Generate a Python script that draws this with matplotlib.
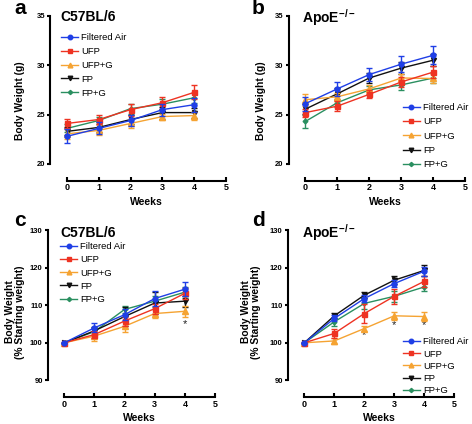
import matplotlib
matplotlib.use("Agg")
import matplotlib.pyplot as plt
from matplotlib.lines import Line2D

plt.rcParams['font.family'] = ['Liberation Sans', 'DejaVu Sans']
plt.rcParams['mathtext.fontset'] = 'custom'
plt.rcParams['mathtext.rm'] = 'Liberation Sans'
plt.rcParams['mathtext.bf'] = 'Liberation Sans:bold'

# data
weeks = [0, 1, 2, 3, 4]
groups = ["Filtered Air", "UFP", "UFP+G", "FP", "FP+G"]

# a: C57BL/6 body weight (g)
fa_a = [22.8, 23.6, 24.4, 25.5, 26.0]
ufp_a = [24.1, 24.5, 25.5, 26.2, 27.25]
ufpg_a = [23.05, 23.4, 24.1, 24.8, 24.9]
fp_a = [23.3, 23.7, 24.5, 25.2, 25.2]
fpg_a = [23.6, 24.4, 25.6, 26.05, 26.7]
fa_a_err = [0.7, 0.6, 0.6, 0.6, 0.7]
ufp_a_err = [0.5, 0.5, 0.6, 0.6, 0.7]
ufpg_a_err = [0.5, 0.5, 0.5, 0.3, 0.4]
fp_a_err = [0.4, 0.5, 0.5, 0.6, 0.5]
fpg_a_err = [0.4, 0.4, 0.5, 0.5, 0.5]

# b: ApoE-/- body weight (g)
fa_b = [26.1, 27.6, 29.05, 30.1, 31.0]
ufp_b = [25.2, 25.85, 27.05, 28.3, 29.3]
ufpg_b = [26.5, 26.8, 27.6, 28.7, 28.65]
fp_b = [25.55, 27.1, 28.7, 29.7, 30.5]
fpg_b = [24.3, 26.2, 27.5, 28.0, 28.7]
fa_b_err = [0.7, 0.7, 0.7, 0.8, 0.9]
ufp_b_err = [0.4, 0.5, 0.4, 0.5, 0.6]
ufpg_b_err = [0.6, 0.4, 0.4, 0.4, 0.5]
fp_b_err = [0.5, 0.6, 0.5, 0.6, 0.6]
fpg_b_err = [0.7, 0.4, 0.4, 0.5, 0.5]

# c: C57BL/6 % starting weight
fa_c = [100, 104.0, 107.5, 111.8, 114.3]
ufp_c = [100, 102.2, 105.8, 109.1, 113.2]
ufpg_c = [100, 101.8, 104.4, 107.8, 108.4]
fp_c = [100, 103.2, 107.0, 110.6, 111.1]
fpg_c = [100, 103.0, 108.9, 111.1, 113.5]
fa_c_err = [0, 1.2, 1.5, 2.0, 1.8]
ufp_c_err = [0, 1.0, 1.2, 1.3, 1.5]
ufpg_c_err = [0, 1.2, 1.5, 1.2, 1.5]
fp_c_err = [0, 1.0, 2.5, 3.0, 1.5]
fpg_c_err = [0, 1.0, 1.0, 1.5, 1.5]

# d: ApoE-/- % starting weight
fa_d = [100, 106.5, 111.8, 115.8, 119.1]
ufp_d = [100, 102.5, 107.8, 112.4, 116.4]
ufpg_d = [100, 100.5, 103.8, 107.2, 107.0]
fp_d = [100, 107.2, 112.7, 116.7, 119.3]
fpg_d = [100, 105.6, 110.5, 112.4, 114.9]
fa_d_err = [0, 0.8, 1.0, 1.0, 1.2]
ufp_d_err = [0, 1.2, 2.5, 2.0, 1.5]
ufpg_d_err = [0, 0.8, 0.7, 1.0, 1.2]
fp_d_err = [0, 0.7, 0.8, 1.0, 1.5]
fpg_d_err = [0, 1.0, 1.5, 1.5, 1.2]

# significance stars
star_c_weeks = [4]
star_c_y = [105]
star_d_weeks = [2, 3, 4]
star_d_y = [102, 104.7, 104.7]

colors = ['#1f3fe6', '#ee3322', '#f5a332', '#111111', '#2a8f60']
markers = ['o', 's', '^', 'v', 'D']
msizes = [3.6, 3.6, 3.8, 3.6, 2.4]

W, H = 472, 424
fig = plt.figure(figsize=(W / 100, H / 100), dpi=100)


def px_axes(left, right, top, bottom):
    return fig.add_axes([left / W, 1 - bottom / H, (right - left) / W, (bottom - top) / H])


def panel(ax, series, errs, ylim, yticks, title, letter, letter_xy, title_xy,
          ylabel, ylab_xy, leg_xy, xlab_y, leg_spacing):
    for i in range(5):
        ax.errorbar(weeks, series[i], yerr=errs[i], color=colors[i], marker=markers[i],
                    markersize=msizes[i], linewidth=1.0, elinewidth=1.0, capsize=2,
                    capthick=1.0, zorder=10 - i, clip_on=False)
    handles = [Line2D([], [], color=colors[i], marker=markers[i], markersize=msizes[i] * 0.9,
                      linewidth=1.0, label=groups[i]) for i in range(5)]
    ax.set_xlim(0, 5)
    ax.set_ylim(*ylim)
    ax.set_xticks([0, 1, 2, 3, 4, 5])
    ax.set_yticks(yticks)
    for s in ['top', 'right']:
        ax.spines[s].set_visible(False)
    ax.spines['left'].set_position(('outward', 12))
    ax.spines['bottom'].set_position(('outward', 12))
    ax.spines['left'].set_linewidth(1.5)
    ax.spines['bottom'].set_linewidth(1.5)
    ax.tick_params(axis='y', direction='out', length=2.5, width=1.5, pad=1, labelsize=5.5)
    ax.tick_params(axis='x', direction='in', length=3, width=1.5, pad=2, labelsize=6.5)
    for lab in ax.get_xticklabels() + ax.get_yticklabels():
        lab.set_fontweight('bold')
    ax.set_ylabel(ylabel, fontsize=7.4, fontweight='bold', linespacing=1.05)
    ax.yaxis.set_label_coords(*ylab_xy)
    ax.yaxis.label.set_va('center')
    ax.set_xlabel("Weeks", fontsize=7.5, fontweight='bold')
    ax.xaxis.set_label_coords(0.5, xlab_y)
    ax.xaxis.label.set_va('center')
    fig.text(title_xy[0] / W, 1 - title_xy[1] / H, title, fontsize=10, fontweight='bold',
             ha='left', va='center')
    fig.text(letter_xy[0] / W, 1 - letter_xy[1] / H, letter, fontsize=15, fontweight='bold',
             ha='left', va='center')
    fig.legend(handles=handles, loc='upper left',
               bbox_to_anchor=(leg_xy[0] / W, 1 - leg_xy[1] / H), frameon=False,
               fontsize=6.8, borderpad=0, borderaxespad=0, handlelength=1.8,
               handletextpad=0.35, labelspacing=leg_spacing)


ax_a = px_axes(67, 226, 15.7, 164)
panel(ax_a, [fa_a, ufp_a, ufpg_a, fp_a, fpg_a],
      [fa_a_err, ufp_a_err, ufpg_a_err, fp_a_err, fpg_a_err],
      (20, 35), [20, 25, 30, 35], "C57BL/6", "a", (14, 9), (60, 17),
      "Body Weight (g)", (-0.296, 0.43), (61, 33), -0.256, 0.52)

ax_b = px_axes(305.3, 465.3, 15.7, 164)
panel(ax_b, [fa_b, ufp_b, ufpg_b, fp_b, fpg_b],
      [fa_b_err, ufp_b_err, ufpg_b_err, fp_b_err, fpg_b_err],
      (20, 35), [20, 25, 30, 35], r"ApoE$^{\mathbf{-/-}}$", "b", (252, 8), (302, 18),
      "Body Weight (g)", (-0.277, 0.43), (402.7, 103.3), -0.256, 0.55)

ax_c = px_axes(64.3, 215, 230.3, 380.3)
panel(ax_c, [fa_c, ufp_c, ufpg_c, fp_c, fpg_c],
      [fa_c_err, ufp_c_err, ufpg_c_err, fp_c_err, fpg_c_err],
      (90, 130), [90, 100, 110, 120, 130], "C57BL/6", "c", (14, 220), (60, 232.7),
      "Body Weight\n(% Starting weight)", (-0.327, 0.455), (60, 242), -0.251, 0.45)

ax_d = px_axes(304.3, 454.3, 230.3, 380.3)
panel(ax_d, [fa_d, ufp_d, ufpg_d, fp_d, fpg_d],
      [fa_d_err, ufp_d_err, ufpg_d_err, fp_d_err, fpg_d_err],
      (90, 130), [90, 100, 110, 120, 130], r"ApoE$^{\mathbf{-/-}}$", "d", (252, 220),
      (302, 233), "Body Weight\n(% Starting weight)", (-0.355, 0.455), (402.7, 337.5),
      -0.251, 0.33)

for wk, yv in zip(star_c_weeks, star_c_y):
    ax_c.text(wk, yv, "*", fontsize=8, ha='center', va='center', color='#222222')
for wk, yv in zip(star_d_weeks, star_d_y):
    ax_d.text(wk, yv, "*", fontsize=8, ha='center', va='center', color='#222222')

fig.savefig("out.png", dpi=100)
